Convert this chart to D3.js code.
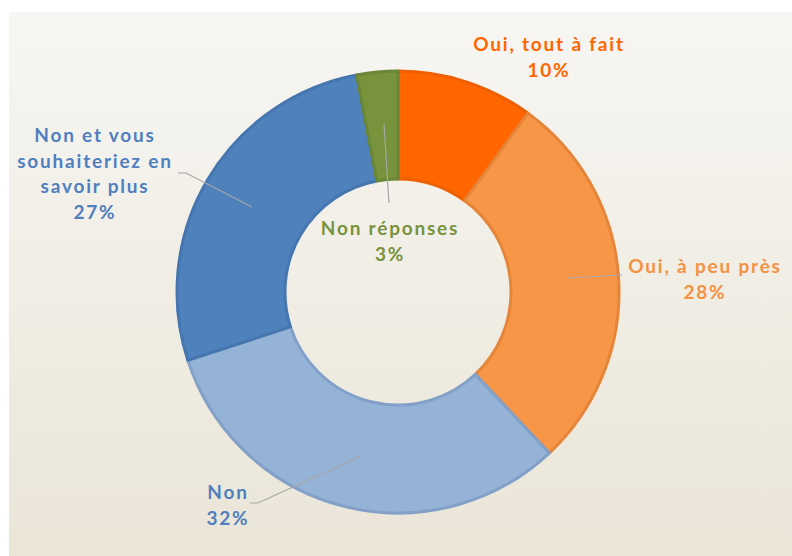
<!DOCTYPE html>
<html>
<head>
<meta charset="utf-8">
<script src="https://cdn.jsdelivr.net/npm/d3@7"></script>
<style>
  body { margin: 0; background: #fff; }
  svg { display: block; }
</style>
</head>
<body>
<div id="chart"></div>
<script>
// Data
const categories = ["Oui, tout à fait", "Oui, à peu près", "Non", "Non et vous souhaiteriez en savoir plus", "Non réponses"];
const values = [10, 28, 32, 27, 3];
const labelLines = [
    ["Oui, tout à fait"],
    ["Oui, à peu près"],
    ["Non"],
    ["Non et vous", "souhaiteriez en", "savoir plus"],
    ["Non réponses"]
];
const colors = ["#ff6600", "#f79646", "#95b3d7", "#4f81bd", "#77933c"];
const strokes = ["#ee5f00", "#e6853a", "#82a0c8", "#4676b0", "#6b8636"];
const textColors = ["#ff6600", "#f59142", "#4f7fbf", "#4f7fbf", "#77933c"];

// Label layout (center x, first baseline y) and leader lines
const labelPos = [[549, 51], [705, 273], [228, 499], [95, 142], [390, 235]];
const leaders = [
    null,
    [[568, 278], [622, 275]],
    [[361, 456], [258, 503], [250, 503]],
    [[252, 207], [186, 173], [178, 173]],
    [[384, 124], [389, 203]]
];

const width = 792, height = 556;
const cx = 398, cy = 292;
const outerR = 221, innerR = 113;

const svg = d3.select("#chart")
    .append("svg")
    .attr("width", width)
    .attr("height", height);

// Background gradient
const defs = svg.append("defs");
const grad = defs.append("linearGradient")
    .attr("id", "bg")
    .attr("x1", 0).attr("y1", 0)
    .attr("x2", 0).attr("y2", 1);
grad.append("stop").attr("offset", "0%").attr("stop-color", "#f7f6f3");
grad.append("stop").attr("offset", "100%").attr("stop-color", "#eae5d7");

svg.append("rect")
    .attr("x", 9).attr("y", 12)
    .attr("width", width - 9).attr("height", height - 12)
    .attr("fill", "url(#bg)");

const pie = d3.pie().sort(null).value(d => d)(values);
const arc = d3.arc().innerRadius(innerR).outerRadius(outerR);

const g = svg.append("g").attr("transform", `translate(${cx},${cy})`);

g.selectAll("path.slice")
    .data(pie)
    .join("path")
    .attr("class", "slice")
    .attr("d", arc)
    .attr("fill", (d, i) => colors[i])
    .attr("stroke", (d, i) => strokes[i])
    .attr("stroke-width", 3)
    .attr("stroke-linejoin", "round");

// Leader lines
const line = d3.line();
svg.selectAll("path.leader")
    .data(leaders.filter(d => d))
    .join("path")
    .attr("class", "leader")
    .attr("d", d => line(d))
    .attr("fill", "none")
    .attr("stroke", "#a6a6a6")
    .attr("stroke-width", 1.2);

// Labels
categories.forEach((c, i) => {
    const lines = labelLines[i].concat([values[i] + "%"]);
    const t = svg.append("text")
        .attr("x", labelPos[i][0])
        .attr("y", labelPos[i][1])
        .attr("text-anchor", "middle")
        .style("font-family", "Lato, 'DejaVu Sans', sans-serif")
        .style("font-weight", "bold")
        .style("font-size", "19px")
        .style("letter-spacing", "1.8px")
        .attr("fill", textColors[i]);
    lines.forEach((l, j) => {
        t.append("tspan")
            .attr("x", labelPos[i][0])
            .attr("dy", j === 0 ? 0 : 25.5)
            .text(l);
    });
});
</script>
</body>
</html>
